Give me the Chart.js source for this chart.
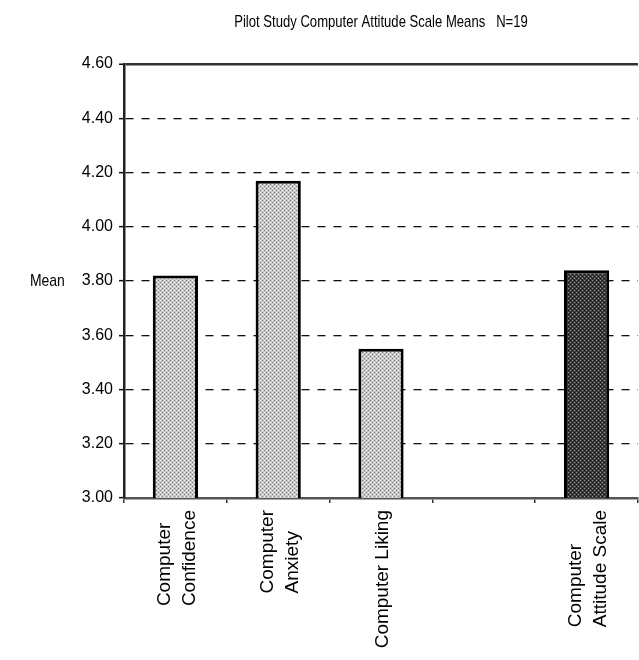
<!DOCTYPE html>
<html>
<head>
<meta charset="utf-8">
<script src="https://cdn.jsdelivr.net/npm/chart.js@4.4.1/dist/chart.umd.min.js"></script>
<style>
  html, body { margin: 0; padding: 0; background: #ffffff; }
  #wrap { width: 639px; height: 660px; position: relative; }
</style>
</head>
<body>
<div id="wrap"><canvas id="chart" width="639" height="660"></canvas></div>
<script>
// Scale means from the pilot study (N=19)
const categories = [
  ['Computer', 'Confidence'],
  ['Computer', 'Anxiety'],
  'Computer Liking',
  '',
  ['Computer', 'Attitude Scale']
];
const means = [3.82, 4.17, 3.55, null, 3.84];
const yTicks = [3.00, 3.20, 3.40, 3.60, 3.80, 4.00, 4.20, 4.40, 4.60];
const titleText = 'Pilot Study Computer Attitude Scale Means   N=19';
const yAxisName = 'Mean';

// Stippled fills for the bars
function stipple(base, dot, alt) {
  const c = document.createElement('canvas');
  c.width = 4; c.height = 4;
  const g = c.getContext('2d');
  g.fillStyle = base; g.fillRect(0, 0, 4, 4);
  g.fillStyle = dot;
  g.fillRect(0, 0, 1, 1); g.fillRect(2, 2, 1, 1);
  g.fillStyle = alt;
  g.fillRect(2, 0, 1, 1); g.fillRect(0, 2, 1, 1);
  return g.createPattern(c, 'repeat');
}
const ctx = document.getElementById('chart').getContext('2d');
const lightFill = stipple('#c8c8c8', '#f6f6f6', '#7a7a7a');
const darkFill = stipple('#3a3a3a', '#9a9a9a', '#111111');
const fills = means.map((v, i) => i === 4 ? darkFill : lightFill);

const FONT = "'Liberation Sans', Arial, sans-serif";

// Draw text squeezed horizontally (narrow face look)
function narrowText(c, text, x, y, squeeze, align) {
  c.save();
  c.translate(x, y);
  c.scale(squeeze, 1);
  c.textAlign = align;
  c.fillText(text, 0, 0);
  c.restore();
}

// Title over the plot area, axis name, and the vertical category labels
const annotate = {
  id: 'annotate',
  afterDraw(chart) {
    const { ctx, chartArea } = chart;
    const xs = chart.scales.x;
    ctx.save();
    ctx.fillStyle = '#000';
    ctx.textBaseline = 'middle';
    ctx.font = '17px ' + FONT;
    narrowText(ctx, titleText, (chartArea.left + chartArea.right) / 2, 22, 0.77, 'center');
    narrowText(ctx, yAxisName, 30, (chartArea.top + chartArea.bottom) / 2, 0.82, 'left');

    // category labels, read bottom-to-top, lines stacked left-to-right
    ctx.font = '19px ' + FONT;
    const lh = 25;
    const top = chartArea.bottom + 12;
    chart.data.labels.forEach((label, i) => {
      const lines = (Array.isArray(label) ? label : [label]).filter(s => s);
      if (!lines.length) return;
      const widest = Math.max(...lines.map(s => ctx.measureText(s).width));
      const cx = xs.getPixelForTick(i) + 2;
      lines.forEach((s, j) => {
        const x = cx + (j - (lines.length - 1) / 2) * lh;
        ctx.save();
        ctx.translate(x, top + widest);
        ctx.rotate(-Math.PI / 2);
        ctx.textAlign = 'left';
        ctx.fillText(s, 0, 0);
        ctx.restore();
      });
    });
    ctx.restore();
  }
};

new Chart(ctx, {
  type: 'bar',
  data: {
    labels: categories,
    datasets: [{
      data: means,
      backgroundColor: fills,
      borderColor: '#000',
      borderWidth: 3,
      borderSkipped: 'start',
      barPercentage: 0.44,
      categoryPercentage: 1.0
    }]
  },
  options: {
    responsive: false,
    animation: false,
    layout: { padding: { top: 64, right: 1, bottom: 0, left: 0 } },
    plugins: {
      legend: { display: false },
      title: { display: false },
      tooltip: { enabled: false }
    },
    scales: {
      x: {
        offset: true,
        grid: {
          offset: true,
          drawOnChartArea: false,
          drawTicks: true,
          tickLength: 5,
          color: '#333',
          lineWidth: 1.5
        },
        border: { display: true, color: '#555', width: 2.5 },
        ticks: { display: false },
        afterFit(s) { s.height = 162; }
      },
      y: {
        min: yTicks[0],
        max: yTicks[yTicks.length - 1],
        afterBuildTicks(s) { s.ticks = yTicks.map(v => ({ value: v })); },
        grid: {
          color: (c) => c.tick && c.tick.value >= 4.6 ? '#333' : '#111',
          lineWidth: (c) => c.tick && c.tick.value >= 4.6 ? 2.5 : 1.3,
          drawTicks: true,
          tickLength: 5,
          tickColor: '#111',
          tickWidth: 1.5,
          tickBorderDash: []
        },
        border: {
          display: true,
          color: '#222',
          width: 2.5,
          dash: (c) => c.tick && (c.tick.value >= 4.6 || c.tick.value <= 3.0) ? [] : [8, 8]
        },
        ticks: {
          padding: 6,
          color: '#000',
          font: { family: FONT, size: 16 },
          callback: (v) => Number(v).toFixed(2)
        },
        afterFit(s) { s.width = 124; }
      }
    }
  },
  plugins: [annotate]
});
</script>
</body>
</html>
